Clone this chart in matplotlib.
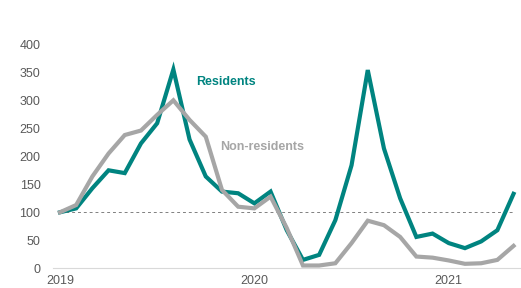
import matplotlib.pyplot as plt

plt.rcParams['font.family'] = ['Liberation Sans', 'DejaVu Sans']

# monthly index, Jan 2019 = 100
months = list(range(29))
residents = [100, 107, 143, 175, 170, 223, 259, 355, 230, 164, 137, 134, 116, 137,
             68, 15, 24, 86, 184, 354, 214, 125, 56, 62, 45, 36, 48, 68, 133]
non_residents = [100, 113, 164, 205, 238, 246, 274, 300, 265, 235, 140, 110, 107, 128,
                 72, 5, 5, 9, 45, 85, 77, 56, 21, 19, 14, 8, 9, 15, 40]
year_ticks = [0, 12, 24]
year_labels = ['2019', '2020', '2021']
y_ticks = [0, 50, 100, 150, 200, 250, 300, 350, 400]

teal = '#008480'
grey = '#a6a6a6'

fig = plt.figure(figsize=(5.21, 2.88), dpi=100)
ax = fig.add_axes([53/521, (288-268.3)/288, 468/521, 224/288])

ax.axhline(100, color='#808080', lw=0.7, ls=(0, (3, 3)), xmin=0.015, xmax=0.985, zorder=1)
ax.plot(months, residents, color=teal, lw=3, solid_joinstyle='miter', zorder=2)
ax.plot(months, non_residents, color=grey, lw=3, solid_joinstyle='miter', zorder=3)

ax.text(8.4, 332, 'Residents', color=teal, fontsize=9, fontweight='bold', va='center')
ax.text(9.9, 216, 'Non-residents', color=grey, fontsize=9, fontweight='bold', va='center')

ax.set_xlim(-0.43, 28.46)
ax.set_ylim(0, 400)
ax.set_xticks(year_ticks)
ax.set_xticklabels(year_labels)
ax.set_yticks(y_ticks)
ax.tick_params(axis='both', length=0, labelsize=9, colors='#595959')
ax.tick_params(axis='y', pad=9)
ax.tick_params(axis='x', pad=5)
for s in ['top', 'right', 'left']:
    ax.spines[s].set_visible(False)
ax.spines['bottom'].set_color('#d9d9d9')
ax.set_clip_on(False)

fig.savefig('out.png', dpi=100)
